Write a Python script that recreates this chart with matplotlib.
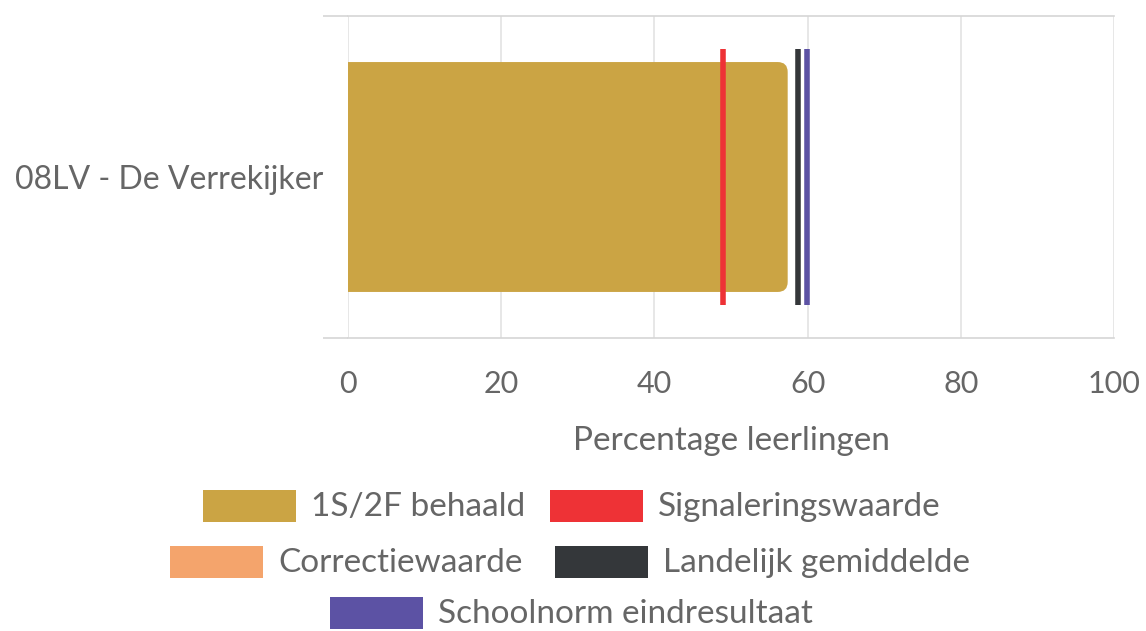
import matplotlib.pyplot as plt
from matplotlib.patches import FancyBboxPatch, Rectangle

# data
school = ["08LV - De Verrekijker"]
behaald = [57.4]
signalering = [49.0]
landelijk = [58.7]
schoolnorm = [59.9]

legend_labels = ["1S/2F behaald", "Signaleringswaarde", "Correctiewaarde",
                 "Landelijk gemiddelde", "Schoolnorm eindresultaat"]
legend_colors = ["#CBA444", "#EE3236", "#F4A46C", "#34373A", "#5C52A4"]

txt = "#666666"
grid = "#e3e3e3"
plt.rcParams['font.family'] = ['Lato', 'DejaVu Sans']

W, H = 1146, 631
fig = plt.figure(figsize=(W / 100, H / 100), dpi=100)
ax = fig.add_axes([348 / W, 1 - 338 / H, (1114 - 348) / W, (338 - 16) / H])

ax.set_xlim(0, 100)
ax.set_ylim(-0.5, 0.5)

# bar with rounded right end (left end clipped by the axes)
bars = ax.barh(range(len(school)), behaald, height=0.714, color=legend_colors[0])
for b in bars:
    b.set_visible(False)
    x0, y0 = b.get_x(), b.get_y()
    w, h = b.get_width(), b.get_height()
    rr = FancyBboxPatch((x0 - 3, y0), w + 3, h,
                        boxstyle="round,pad=0,rounding_size=1.3",
                        mutation_aspect=0.0238, fc=legend_colors[0], ec="none",
                        zorder=2)
    ax.add_patch(rr)

# reference lines
for vals, col in [(signalering, legend_colors[1]), (landelijk, legend_colors[3]),
                  (schoolnorm, legend_colors[4])]:
    for i, v in enumerate(vals):
        ax.vlines(v, i - 0.3975, i + 0.3975, color=col, lw=4, zorder=3)

ax.set_xticks(range(0, 101, 20))
ax.grid(axis="x", color=grid, lw=1.2, zorder=0)
ax.set_axisbelow(True)
ax.tick_params(axis="x", length=0, pad=23, labelsize=22, labelcolor=txt)

ax.set_yticks([-0.5, 0.5])
ax.set_yticklabels([])
ax.set_yticks([0], minor=True)
ax.set_yticklabels(school, minor=True)
ax.tick_params(axis="y", which="major", length=18, width=1.2, color="#d6d6d6")
ax.tick_params(axis="y", which="minor", length=0, pad=18, labelsize=23, labelcolor=txt)

for s in ["left", "right"]:
    ax.spines[s].set_visible(False)
for s in ["top", "bottom"]:
    ax.spines[s].set_color("#d6d6d6")
    ax.spines[s].set_linewidth(1.2)

ax.set_xlabel("Percentage leerlingen", fontsize=24, color=txt, labelpad=20)

# legend, drawn by hand (Highcharts style, centred rows)
rows = [[0, 1], [2, 3], [4]]
sw_x = [[203, 550], [170, 555], [330]]
row_y = [506, 562, 613]
for r, items in enumerate(rows):
    for k, idx in enumerate(items):
        x = sw_x[r][k]
        yc = row_y[r]
        fig.patches.append(Rectangle((x / W, 1 - (yc + 16) / H), 93 / W, 32 / H,
                                     transform=fig.transFigure, fc=legend_colors[idx],
                                     ec="none"))
        fig.text((x + 108) / W, 1 - (yc + 1) / H, legend_labels[idx], fontsize=24,
                 color=txt, va="center", ha="left")

fig.savefig("out.png", dpi=100)
